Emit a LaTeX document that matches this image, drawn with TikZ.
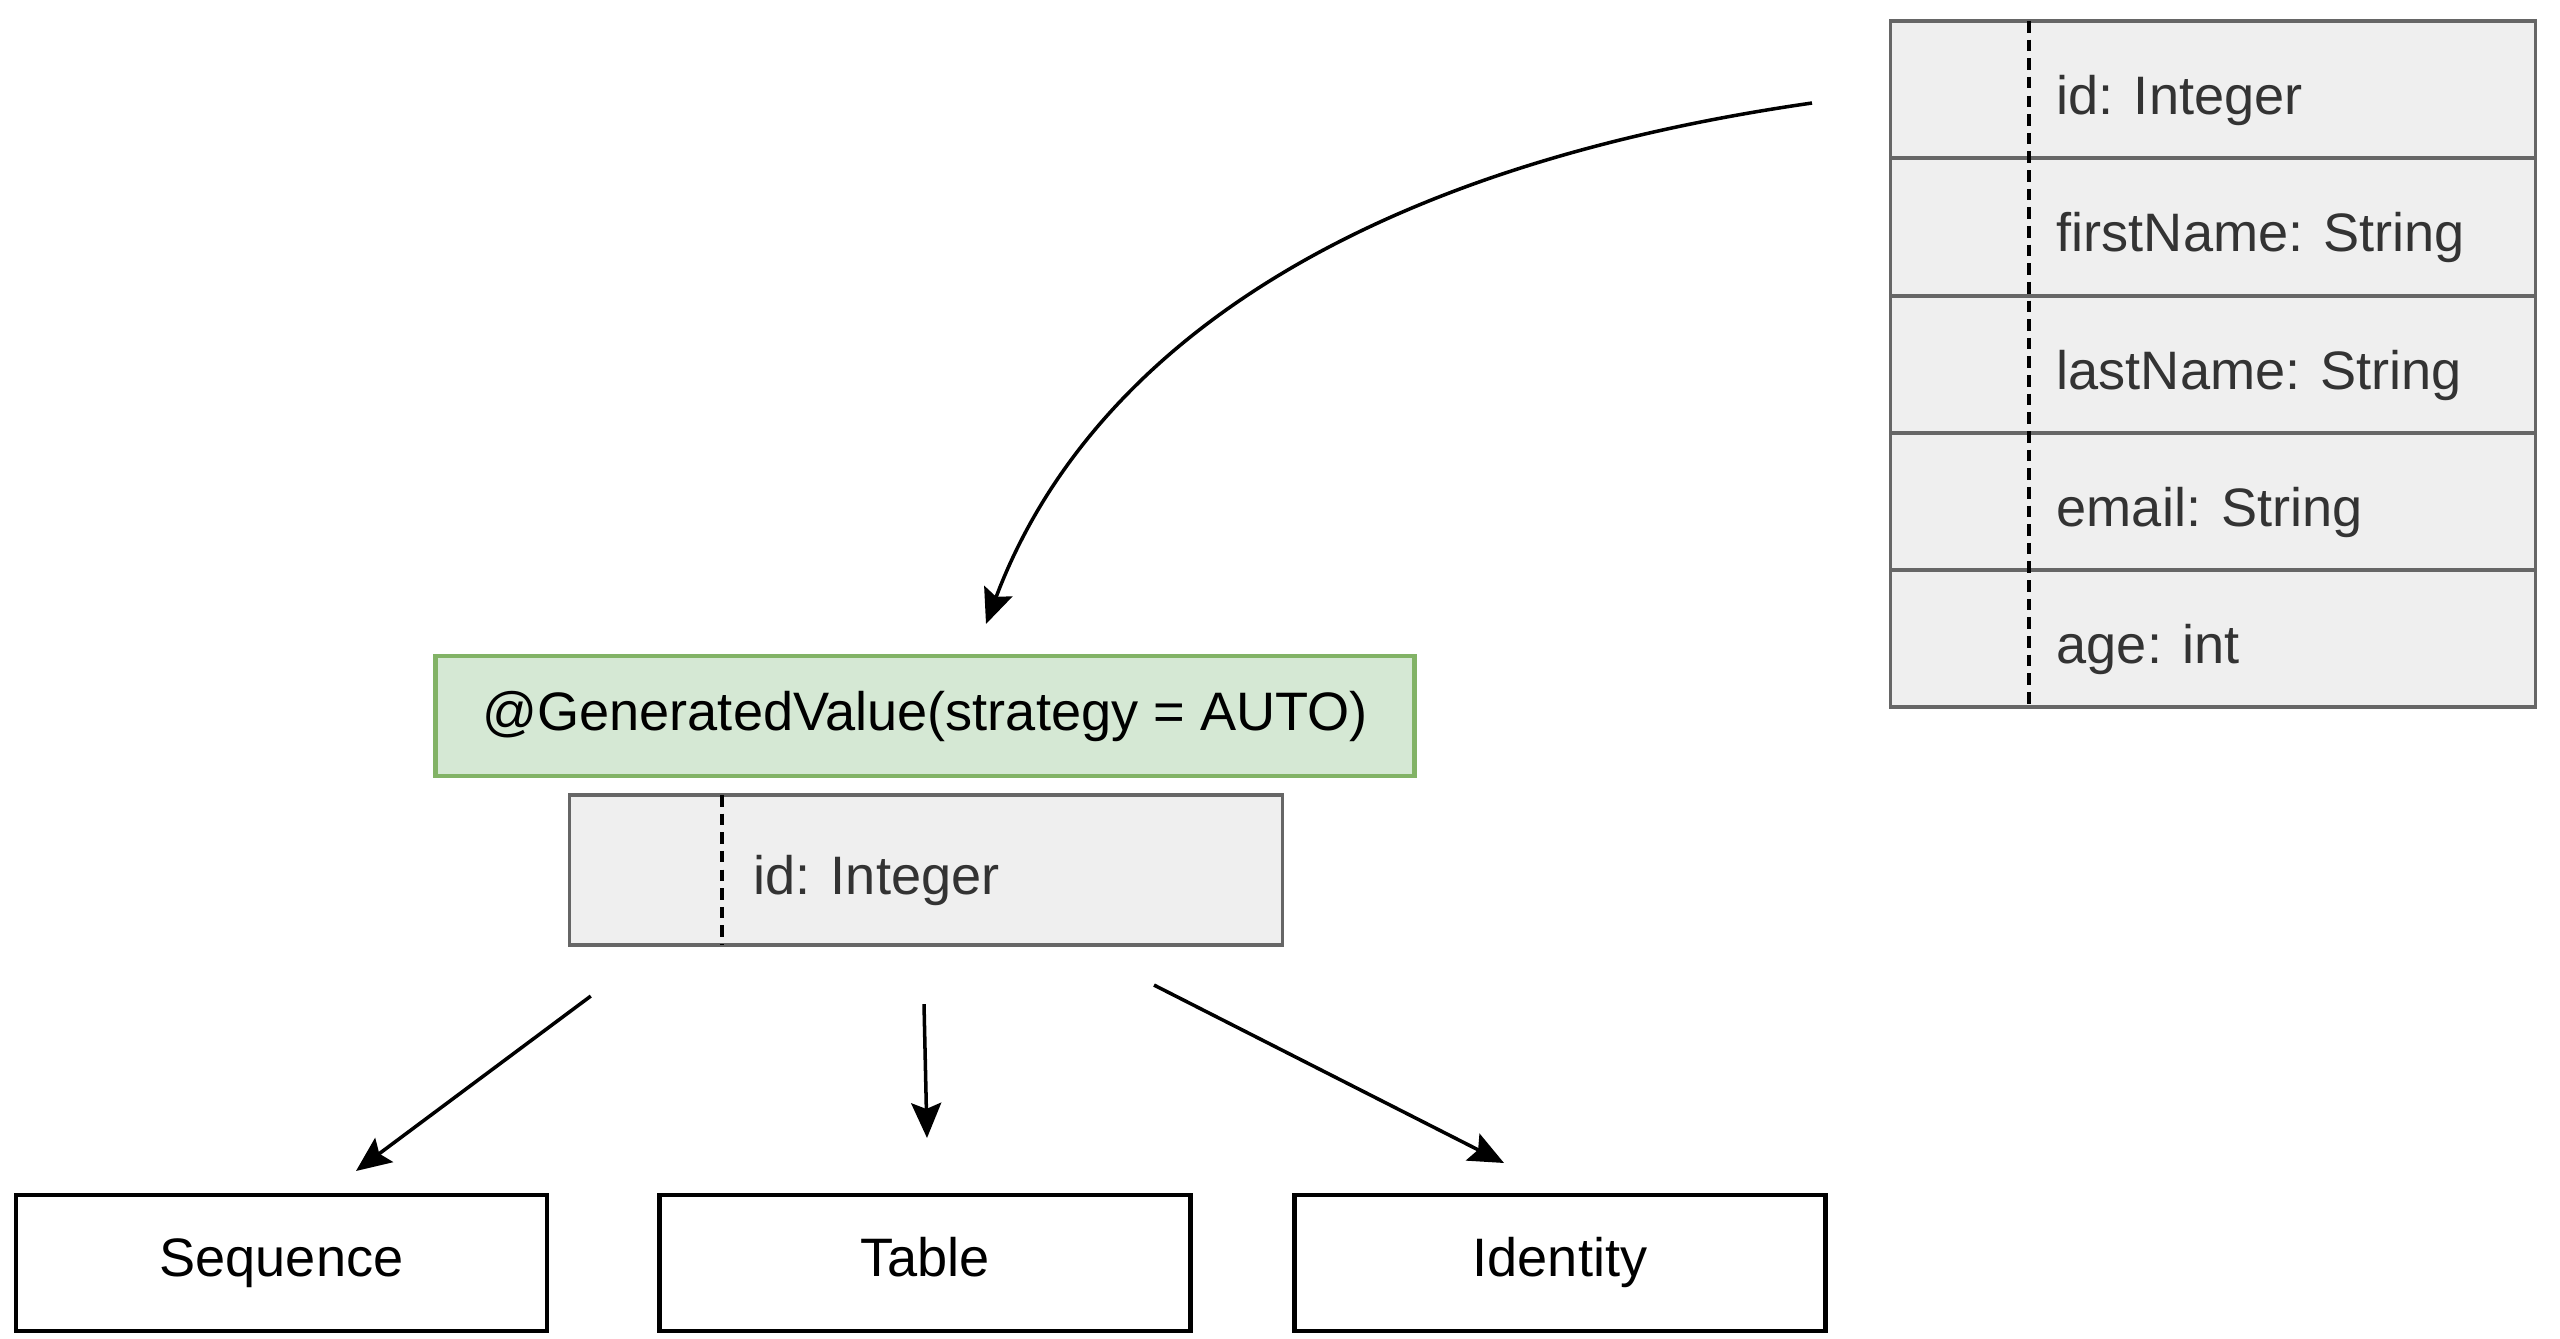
\documentclass[tikz,border=0pt]{standalone}
\usepackage{fontspec}
\setmainfont{Liberation Sans}
\usetikzlibrary{arrows.meta}
\definecolor{rowfill}{HTML}{EFEFEF}
\definecolor{rowline}{HTML}{666666}
\definecolor{rowtext}{HTML}{333333}
\definecolor{gfill}{HTML}{D5E8D4}
\definecolor{gline}{HTML}{82B366}
\tikzset{
  rowbox/.style={draw=rowline, fill=rowfill, line width=0.9pt, minimum width=6.44cm, minimum height=1.37cm, inner sep=0pt, outer sep=0pt},
  rowlabel/.style={text=rowtext, anchor=base west, inner sep=0pt},
  divider/.style={dash pattern=on 3.3pt off 2pt, line width=1.1pt},
  greenbox/.style={draw=gline, fill=gfill, line width=1.3pt, minimum width=9.78cm, minimum height=1.2cm, inner sep=0pt, outer sep=0pt},
  stratbox/.style={draw=black, line width=1.3pt, fill=white, minimum width=5.31cm, minimum height=1.36cm, inner sep=0pt, outer sep=0pt, text height=0.74em, text depth=0pt},
  arr/.style={-{Stealth[length=0.35cm,width=0.3cm,inset=0.06cm]}, line width=1pt}
}
\begin{document}
\begin{tikzpicture}[x=0.01cm,y=-0.01cm, font=\fontsize{15.4}{18}\selectfont]
\useasboundingbox (0,0) rectangle (2560,1338);
% right table
\node[rowbox] (r1) at (2213,89.5) {};
\node[rowbox] (r2) at (2213,227) {};
\node[rowbox] (r3) at (2213,364.5) {};
\node[rowbox] (r4) at (2213,501.5) {};
\node[rowbox] (r5) at (2213,638.5) {};
\draw[divider] ([xshift=1.38cm]r1.north west) -- ([xshift=1.38cm]r5.south west);
\node[rowlabel] (t1) at (2056,114) {id: Integer};
\node[rowlabel] (t2) at (2056,251.5) {firstName: String};
\node[rowlabel] (t3) at (2056,389) {lastName: String};
\node[rowlabel] (t4) at (2056,526) {email: String};
\node[rowlabel] (t5) at (2056,663) {age: int};
% green annotation
\node[greenbox] (gv) at (925,716) {@GeneratedValue(strategy = AUTO)};
% id box
\node[rowbox, minimum width=7.12cm, minimum height=1.5cm] (idb) at (926,870) {};
\draw[divider] ([xshift=1.52cm]idb.north west) -- ([xshift=1.52cm]idb.south west);
\node[rowlabel] (idt) at (753,894) {id: Integer};
% strategies
\node[stratbox] (seq) at (281.5,1263) {Sequence};
\node[stratbox] (tab) at (925,1263) {Table};
\node[stratbox] (ide) at (1560,1263) {Identity};
% connectors
\coordinate (cstart) at (1812,103);
\draw[arr] (cstart) .. controls (1290,178) and (1072,395) .. ([shift={(61,-32)}]gv.north);
\draw[arr] ([shift={(21,51)}]idb.south west) -- ([shift={(74.5,-24)}]seq.north);
\draw[arr] ([shift={(-2,59)}]idb.south) -- ([shift={(2,-57)}]tab.north);
\draw[arr] ([shift={(228,40)}]idb.south) -- ([shift={(-56,-32)}]ide.north);
\end{tikzpicture}
\end{document}
